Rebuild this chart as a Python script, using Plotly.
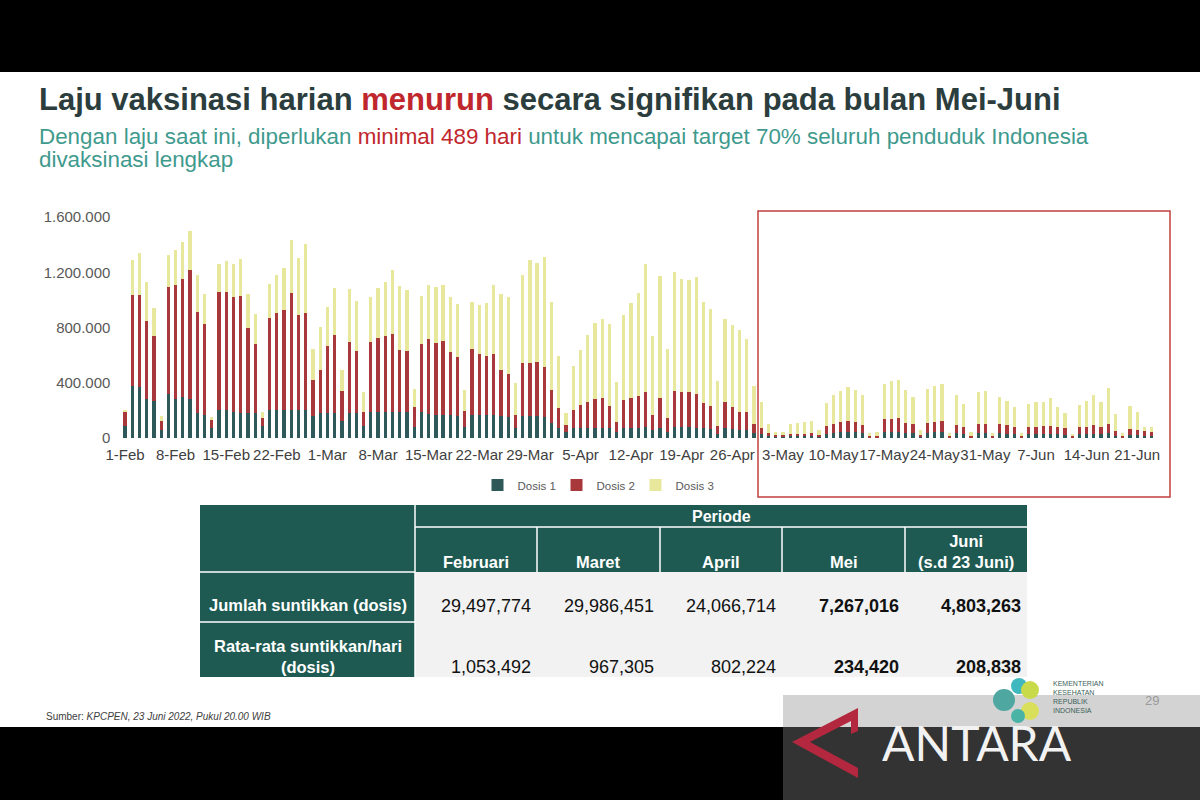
import plotly.graph_objects as go

# ---------------- data (thousands of doses per day, 1 Feb – 23 Jun 2022) ----------------
dosis1 = [85,380,370,280,270,60,316,280,300,280,180,170,70,204,200,190,180,180,180,90,
          200,200,200,200,200,200,160,180,180,180,120,180,180,90,185,185,185,185,185,185,
          80,185,175,165,165,165,160,80,165,165,165,165,160,155,70,160,160,160,155,110,
          70,40,70,75,75,75,75,70,40,75,75,75,80,55,75,45,80,80,80,75,
          70,65,30,70,65,60,55,35,28,14,9,9,11,12,12,13,8,30,35,40,
          42,40,33,6,7,45,45,47,38,35,8,38,40,42,6,33,28,7,35,35,
          6,34,32,28,6,27,28,30,30,27,24,5,28,28,32,28,35,18,6,22,
          20,18,16]
dosis2 = [110,655,665,570,472,60,774,826,850,934,735,656,62,850,854,828,845,615,501,53,
          670,702,726,852,690,707,262,310,484,564,217,513,453,97,508,540,557,569,455,443,
          148,499,545,523,540,455,427,119,482,446,431,443,334,308,97,383,383,390,359,239,
          150,55,134,165,184,209,213,163,74,197,213,230,252,112,218,98,262,250,250,243,
          187,170,57,194,163,131,136,64,47,20,13,13,16,18,20,22,12,55,65,79,
          84,79,62,8,11,91,91,96,74,67,14,74,79,84,8,62,54,11,67,67,
          8,65,63,54,8,51,54,57,57,51,46,7,54,54,63,54,67,33,9,41,
          38,35,30]
dosis3 = [5,251,301,276,199,36,232,252,268,283,265,214,19,203,226,239,270,245,219,48,
          243,276,308,381,410,496,223,315,286,339,158,388,358,143,330,363,390,460,460,443,
          128,344,390,408,400,403,385,145,337,349,383,497,546,557,231,635,744,720,797,635,
          376,84,315,395,485,545,575,594,288,622,691,742,931,575,880,504,860,819,812,850,
          727,696,323,601,589,589,526,279,189,65,24,24,73,80,81,91,38,165,213,218,
          242,225,218,20,28,257,274,274,232,194,36,242,254,267,20,218,165,28,231,235,
          20,201,174,141,20,169,182,177,201,143,109,17,158,187,218,182,259,121,24,170,
          133,29,32]
assert len(dosis1) == len(dosis2) == len(dosis3) == 143, (len(dosis1), len(dosis2), len(dosis3))
days = list(range(len(dosis1)))

tick_days = [0, 7, 14, 21, 28, 35, 42, 49, 56, 63, 70, 77, 84, 91, 98, 105, 112, 119, 126, 133, 140]
tick_labels = ["1-Feb", "8-Feb", "15-Feb", "22-Feb", "1-Mar", "8-Mar", "15-Mar", "22-Mar",
               "29-Mar", "5-Apr", "12-Apr", "19-Apr", "26-Apr", "3-May", "10-May", "17-May",
               "24-May", "31-May", "7-Jun", "14-Jun", "21-Jun"]
y_ticks = [0, 400, 800, 1200, 1600]
y_tick_labels = ["0", "400.000", "800.000", "1.200.000", "1.600.000"]

# table
months = ["Februari", "Maret", "April", "Mei", "Juni<br>(s.d 23 Juni)"]
jumlah = [29497774, 29986451, 24066714, 7267016, 4803263]
rata = [1053492, 967305, 802224, 234420, 208838]
row_labels = ["Jumlah suntikkan (dosis)", "Rata-rata suntikkan/hari<br>(dosis)"]

# ---------------- styling ----------------
W, H = 1200, 800
def px(x): return x / W
def py(y): return 1 - y / H

C1, C2, C3 = "#2f5859", "#a8383b", "#e8e89c"
TEAL_HDR = "#1e5a52"
SANS = "Liberation Sans, Arial, sans-serif"

fig = go.Figure()
for name, vals, col in [("Dosis 1", dosis1, C1), ("Dosis 2", dosis2, C2), ("Dosis 3", dosis3, C3)]:
    fig.add_trace(go.Bar(x=days, y=vals, name=name, marker_color=col, marker_line_width=0))

x_left, step = 125.0, 7.23
shapes = []
shapes.append(dict(type="rect", xref="paper", yref="paper", x0=0, x1=1, y0=py(727), y1=py(72),
                   fillcolor="white", line_width=0, layer="below"))
shapes.append(dict(type="rect", xref="paper", yref="paper", x0=px(758), x1=px(1170), y0=py(497), y1=py(211),
                   line=dict(color="#c0413f", width=1.5), fillcolor="rgba(0,0,0,0)", layer="above"))

ann = []
ann.append(dict(xref="paper", yref="paper", x=px(37), y=py(99), xanchor="left", yanchor="middle",
                text="<b>Laju vaksinasi harian <span style='color:#c0272d'>menurun</span> secara signifikan pada bulan Mei-Juni</b>",
                showarrow=False, font=dict(family=SANS, size=31, color="#2b3d3d")))
ann.append(dict(xref="paper", yref="paper", x=px(37), y=py(136), xanchor="left", yanchor="middle",
                text="Dengan laju saat ini, diperlukan <span style='color:#c0272d'>minimal 489 hari</span> untuk mencapai target 70% seluruh penduduk Indonesia",
                showarrow=False, font=dict(family=SANS, size=22.4, color="#3f9a8e")))
ann.append(dict(xref="paper", yref="paper", x=px(37), y=py(160), xanchor="left", yanchor="middle",
                text="divaksinasi lengkap", showarrow=False, font=dict(family=SANS, size=22.4, color="#3f9a8e")))

# ---------------- table ----------------
T_L, T_R = 200, 1027
col_edges = [415, 537, 660, 782, 905, 1027]
r_top, r_per, r_hdr, r_1, r_bot = 505, 527, 572, 622, 677
shapes.append(dict(type="rect", xref="paper", yref="paper", x0=px(T_L), x1=px(T_R), y0=py(r_hdr), y1=py(r_top),
                   fillcolor=TEAL_HDR, line_width=0, layer="above"))
shapes.append(dict(type="rect", xref="paper", yref="paper", x0=px(T_L), x1=px(col_edges[0]), y0=py(r_bot), y1=py(r_hdr),
                   fillcolor=TEAL_HDR, line_width=0, layer="above"))
shapes.append(dict(type="rect", xref="paper", yref="paper", x0=px(col_edges[0]), x1=px(T_R), y0=py(r_bot), y1=py(r_hdr),
                   fillcolor="#f2f2f2", line_width=0, layer="above"))
for y0 in [r_hdr, r_1]:
    shapes.append(dict(type="line", xref="paper", yref="paper", x0=px(T_L), x1=px(col_edges[0]), y0=py(y0), y1=py(y0),
                       line=dict(color="white", width=1.5), layer="above"))
shapes.append(dict(type="line", xref="paper", yref="paper", x0=px(col_edges[0]), x1=px(T_R), y0=py(r_per), y1=py(r_per),
                   line=dict(color="white", width=1.5), layer="above"))
for xe in col_edges[:-1]:
    y_start = r_top if xe == col_edges[0] else r_per
    shapes.append(dict(type="line", xref="paper", yref="paper", x0=px(xe), x1=px(xe), y0=py(r_hdr), y1=py(y_start),
                       line=dict(color="white", width=1.5), layer="above"))
shapes.append(dict(type="line", xref="paper", yref="paper", x0=px(col_edges[0]), x1=px(col_edges[0]), y0=py(r_bot), y1=py(r_hdr),
                   line=dict(color="white", width=1.5), layer="above"))

ann.append(dict(xref="paper", yref="paper", x=px((col_edges[0] + T_R) / 2), y=py(516), xanchor="center", yanchor="middle",
                text="<b>Periode</b>", showarrow=False, font=dict(family=SANS, size=16, color="white")))
for k, m in enumerate(months):
    cx = (col_edges[k] + col_edges[k + 1]) / 2
    ann.append(dict(xref="paper", yref="paper", x=px(cx), y=py(573), xanchor="center", yanchor="bottom",
                    text=f"<b>{m}</b>", showarrow=False, font=dict(family=SANS, size=16.5, color="white")))
ann.append(dict(xref="paper", yref="paper", x=px((T_L + col_edges[0]) / 2), y=py(605), xanchor="center", yanchor="middle",
                text=f"<b>{row_labels[0]}</b>", showarrow=False, font=dict(family=SANS, size=16.5, color="white")))
ann.append(dict(xref="paper", yref="paper", x=px((T_L + col_edges[0]) / 2), y=py(678), xanchor="center", yanchor="bottom",
                text=f"<b>{row_labels[1]}</b>", showarrow=False, font=dict(family=SANS, size=16.5, color="white")))
for k in range(5):
    xr = col_edges[k + 1] - 4
    b0, b1 = ("<b>", "</b>") if k >= 3 else ("", "")
    ann.append(dict(xref="paper", yref="paper", x=px(xr), y=py(606), xanchor="right", yanchor="middle",
                    text=f"{b0}{jumlah[k]:,}{b1}", showarrow=False, font=dict(family=SANS, size=18, color="#111111")))
    ann.append(dict(xref="paper", yref="paper", x=px(xr), y=py(667), xanchor="right", yanchor="middle",
                    text=f"{b0}{rata[k]:,}{b1}", showarrow=False, font=dict(family=SANS, size=18, color="#111111")))

ann.append(dict(xref="paper", yref="paper", x=px(44), y=py(716), xanchor="left", yanchor="middle",
                text="Sumber: <i>KPCPEN, 23 Juni 2022, Pukul 20.00 WIB</i>", showarrow=False,
                font=dict(family=SANS, size=10, color="#404040")))

# ---------------- watermark / logos ----------------
shapes.append(dict(type="rect", xref="paper", yref="paper", x0=px(783), x1=1, y0=py(727), y1=py(695),
                   fillcolor="#d3d3d3", line_width=0, layer="above"))
shapes.append(dict(type="rect", xref="paper", yref="paper", x0=px(783), x1=1, y0=0, y1=py(727),
                   fillcolor="#333333", line_width=0, layer="above"))
def ppath(pts):
    return "M " + " L ".join(f"{px(a):.5f},{py(b):.5f}" for a, b in pts) + " Z"
shapes.append(dict(type="path", xref="paper", yref="paper",
                   path=ppath([(858, 708), (792, 742), (858, 778), (858, 768), (810, 742), (851, 721), (851, 734), (858, 731)]),
                   fillcolor="#b3283f", line_width=0, layer="above"))
for (cx, cy, r, col) in [(1004, 700, 11, "#4fa7a1"), (1019, 686, 8, "#3fb8c0"), (1030, 690, 9, "#c8d94a"),
                         (1030, 711, 9, "#d9df5a"), (1018, 716, 7, "#49b3a6")]:
    shapes.append(dict(type="circle", xref="paper", yref="paper", x0=px(cx - r), x1=px(cx + r), y0=py(cy + r), y1=py(cy - r),
                       fillcolor=col, line_width=0, layer="above"))
ann.append(dict(xref="paper", yref="paper", x=px(1051), y=py(697), xanchor="left", yanchor="middle", align="left",
                text="KEMENTERIAN<br>KESEHATAN<br>REPUBLIK<br>INDONESIA", showarrow=False,
                font=dict(family=SANS, size=7, color="#3d5f5a")))
ann.append(dict(xref="paper", yref="paper", x=px(1152), y=py(700), xanchor="center", yanchor="middle",
                text="29", showarrow=False, font=dict(family=SANS, size=13, color="#9a9a9a")))
ann.append(dict(xref="paper", yref="paper", x=px(977), y=py(742), xanchor="center", yanchor="middle",
                text="ANTARA", showarrow=False, height=46, valign="middle",
                font=dict(family="Lato, DejaVu Sans, sans-serif", size=48, color="#f2f2f2")))

fig.update_layout(
    width=W, height=H, margin=dict(l=0, r=0, t=0, b=0, pad=0, autoexpand=False),
    paper_bgcolor="black", plot_bgcolor="rgba(0,0,0,0)",
    barmode="stack", bargap=0.55,
    xaxis=dict(domain=[px(x_left - step / 2), px(x_left + step * 142.5)], range=[-0.5, 142.5],
               tickmode="array", tickvals=tick_days, ticktext=tick_labels, showgrid=False, zeroline=False,
               showline=False, ticks="", tickangle=0, ticklabelstandoff=6, automargin=False,
               tickfont=dict(family=SANS, size=15, color="#404040")),
    yaxis=dict(domain=[py(438), py(217)], range=[0, 1600], tickmode="array", tickvals=y_ticks,
               ticktext=y_tick_labels, showgrid=False, zeroline=False, showline=False, ticks="",
               ticklabelstandoff=10, automargin=False, tickfont=dict(family=SANS, size=15, color="#595959")),
    legend=dict(orientation="h", x=px(596), xanchor="center", y=py(485), yanchor="middle",
                traceorder="normal", font=dict(family=SANS, size=11.5, color="#595959"),
                bgcolor="rgba(0,0,0,0)", itemwidth=30, entrywidth=34, entrywidthmode="pixels"),
    shapes=shapes, annotations=ann, showlegend=True,
)
fig.write_html("out.html",
               post_script="document.body.style.margin='0';document.body.style.padding='0';"
                           "document.documentElement.style.overflow='hidden';")
